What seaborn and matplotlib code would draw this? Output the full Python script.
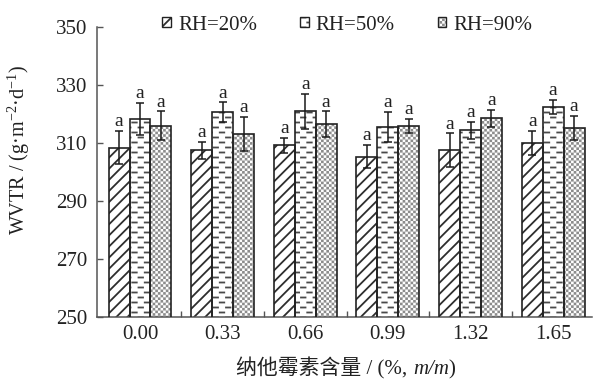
import warnings
warnings.filterwarnings('ignore')
import numpy as np
import pandas as pd
import matplotlib
matplotlib.use('Agg')
import matplotlib.pyplot as plt
import matplotlib.hatch as mhatch
from matplotlib.path import Path
from matplotlib.patches import Rectangle, Patch
from matplotlib.legend_handler import HandlerTuple
from matplotlib.ticker import FixedLocator
import seaborn as sns

# ---------------- data ----------------
contents = ['0.00', '0.33', '0.66', '0.99', '1.32', '1.65']
rh_levels = ['RH=20%', 'RH=50%', 'RH=90%']
wvtr_rh20 = [308.4, 307.5, 309.2, 305.3, 307.5, 310.0]
wvtr_rh50 = [318.3, 320.7, 320.9, 315.5, 314.4, 322.4]
wvtr_rh90 = [315.9, 313.1, 316.4, 316.0, 318.5, 315.2]
err_rh20 = [5.7, 3.0, 2.6, 4.0, 5.8, 4.1]
err_rh50 = [5.6, 3.3, 5.9, 5.1, 3.0, 2.5]
err_rh90 = [5.0, 5.8, 4.5, 2.4, 2.9, 4.2]
sig_rh20 = ['a', 'a', 'a', 'a', 'a', 'a']
sig_rh50 = ['a', 'a', 'a', 'a', 'a', 'a']
sig_rh90 = ['a', 'a', 'a', 'a', 'a', 'a']
y_ticks = [250, 270, 290, 310, 330, 350]
x_label_parts = ['纳他霉素含量 / (%, ', 'm/m', ')']
x_label_styles = ['normal', 'italic', 'normal']
y_label = 'WVTR / (g·m$^{-2}$·d$^{-1}$)'

values = [wvtr_rh20, wvtr_rh50, wvtr_rh90]
errors = [err_rh20, err_rh50, err_rh90]
sigs = [sig_rh20, sig_rh50, sig_rh90]

df = pd.DataFrame({
    'content': np.tile(contents, len(rh_levels)),
    'RH': np.repeat(rh_levels, len(contents)),
    'WVTR': np.concatenate(values),
})

# ---------------- custom hatches ----------------
HATCH_LW = 1.3                      # points
LW_UNIT = HATCH_LW * 100 / 72 / 100  # hatch linewidth in hatch-tile units (dpi 100)


class DashHatch(mhatch.HatchPatternBase):
    """Staggered short horizontal dashes (char 'd')."""
    def __init__(self, hatch, density):
        self.on = 'd' in hatch
        self.rows, self.cols = 20, 8
        self.num_vertices = self.rows * self.cols * 2 if self.on else 0

    def set_vertices_and_codes(self, vertices, codes):
        L = 0.36 / self.cols
        k = 0
        for r in range(self.rows):
            y = (r + 0.5) / self.rows
            for c in range(self.cols):
                x0 = (c + 0.5 * (r % 2)) / self.cols + 0.01
                vertices[k] = (x0, y)
                vertices[k + 1] = (x0 + L, y)
                codes[k] = Path.MOVETO
                codes[k + 1] = Path.LINETO
                k += 2


class CheckHatch(mhatch.HatchPatternBase):
    """Checkerboard of filled squares (char 'c')."""
    def __init__(self, hatch, density):
        self.on = 'c' in hatch
        self.n = 38
        self.cells = [(i, j) for i in range(self.n) for j in range(self.n)
                      if (i + j) % 2 == 0] if self.on else []
        self.num_vertices = len(self.cells) * 5

    def set_vertices_and_codes(self, vertices, codes):
        s = 1.0 / self.n
        inset = min(LW_UNIT / 2, s * 0.45)
        k = 0
        for i, j in self.cells:
            x0, y0 = i * s + inset, j * s + inset
            x1, y1 = (i + 1) * s - inset, (j + 1) * s - inset
            vertices[k:k + 5] = [(x0, y0), (x1, y0), (x1, y1), (x0, y1), (x0, y0)]
            codes[k:k + 5] = [Path.MOVETO, Path.LINETO, Path.LINETO,
                              Path.LINETO, Path.CLOSEPOLY]
            k += 5


mhatch._hatch_types.append(DashHatch)
mhatch._hatch_types.append(CheckHatch)

# ---------------- style ----------------
sns.set_style('ticks')
plt.rcParams['font.family'] = ['Liberation Serif', 'Noto Sans CJK SC', 'DejaVu Sans']
plt.rcParams['mathtext.fontset'] = 'custom'
plt.rcParams['mathtext.rm'] = 'Liberation Serif'
plt.rcParams['mathtext.it'] = 'Liberation Serif:italic'
plt.rcParams['hatch.linewidth'] = HATCH_LW

hatches = ['///', 'd', 'c']
hatch_colors = ['#2e2e2e', '#4a4a4a', '#8c8c8c']
edge_col = '#222222'
spine_col = '#555555'
text_col = '#222222'
FS = 15

W, H = 593, 379
fig = plt.figure(figsize=(W / 100, H / 100), dpi=100)
ax = fig.add_axes([97 / W, 1 - 317 / H, (592 - 97) / W, (317 - 27) / H])

sns.barplot(data=df, x='content', y='WVTR', hue='RH', order=contents,
            hue_order=rh_levels, errorbar=None, width=0.76, gap=0,
            legend=False, ax=ax)

bars = [p for p in ax.patches if isinstance(p, Rectangle)]
bars = sorted(bars, key=lambda b: b.get_x())
nh = len(rh_levels)
for idx, bar in enumerate(bars):
    j, ci = divmod(idx, nh)
    bar.set_facecolor('white')
    bar.set_edgecolor(hatch_colors[ci])
    bar.set_linewidth(0)
    bar.set_hatch(hatches[ci])
    bx, bw = bar.get_x(), bar.get_width()
    by, bh = bar.get_y(), bar.get_height()
    ax.add_patch(Rectangle((bx, by), bw, bh, fill=False,
                           edgecolor=edge_col, linewidth=1.2, zorder=3))
    xc = bx + bw / 2
    top = by + bh
    ax.errorbar(xc, top, yerr=errors[ci][j], fmt='none', ecolor='#1a1a1a',
                elinewidth=1.1, capsize=3, capthick=1.1, zorder=4)
    ax.text(xc, top + errors[ci][j] + 0.3, sigs[ci][j], ha='center',
            va='bottom', fontsize=14, color=text_col, zorder=5)

ax.set_ylim(250, 350)
ax.set_xlim(-0.52, 5.47)
ax.set_yticks(y_ticks)
ax.set_yticklabels([str(t) for t in y_ticks])
ax.tick_params(axis='y', direction='in', length=4, width=1, color=spine_col,
               labelsize=FS, pad=7, labelcolor=text_col)
ax.tick_params(axis='x', which='major', length=0, labelsize=FS, pad=6,
               labelcolor=text_col)
ax.xaxis.set_minor_locator(FixedLocator(np.arange(0.5, len(contents) - 1, 1.0)))
ax.tick_params(axis='x', which='minor', direction='in', length=4, width=1,
               color=spine_col)

for side in ['top', 'right']:
    ax.spines[side].set_visible(False)
for side in ['left', 'bottom']:
    ax.spines[side].set_color(spine_col)
    ax.spines[side].set_linewidth(1.1)

ax.set_ylabel(y_label, fontsize=14.5, color=text_col)
ax.yaxis.set_label_coords(-0.132, 0.575)
ax.set_xlabel('')

handles = [(Patch(facecolor='white', edgecolor=hatch_colors[i], hatch=hatches[i], linewidth=0),
            Patch(facecolor='none', edgecolor=edge_col, linewidth=1.0))
           for i in range(len(rh_levels))]
fig.legend(handles, rh_levels, handler_map={tuple: HandlerTuple(ndivide=1, pad=0)},
           loc='center left', bbox_to_anchor=(162 / W, 1 - 25 / H),
           ncol=3, frameon=False, fontsize=FS, handlelength=0.42,
           handleheight=0.42, handletextpad=0.35, columnspacing=2.05,
           borderpad=0, borderaxespad=0, labelcolor=text_col)

# x-axis title assembled from pieces (Chinese via font fallback, italic m/m)
fig.canvas.draw()
renderer = fig.canvas.get_renderer()
pieces = [fig.text(0, 1 - 374 / H, s, fontsize=FS, style=st, color=text_col,
                   ha='left', va='baseline')
          for s, st in zip(x_label_parts, x_label_styles)]
widths = [p.get_window_extent(renderer).width for p in pieces]
x0 = 346 - sum(widths) / 2
for p, w in zip(pieces, widths):
    p.set_x(x0 / W)
    x0 += w

fig.savefig('out.png', dpi=100)
